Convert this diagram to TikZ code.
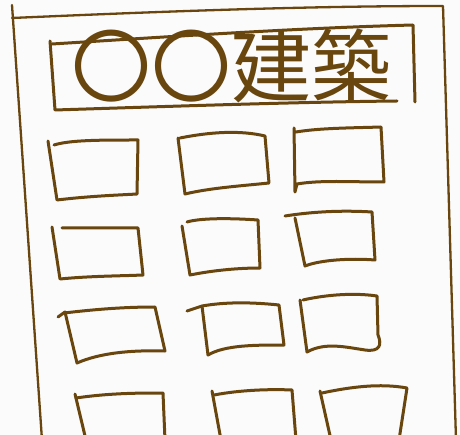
\documentclass[tikz,border=0pt]{standalone}
\usepackage{fontspec}
\newfontfamily\jpfont{Noto Sans CJK JP}
\definecolor{ink}{RGB}{104,70,14}
\definecolor{paper}{RGB}{251,251,251}
\begin{document}
\begin{tikzpicture}[x=1pt,y=-1pt,
  sk/.style={draw=ink,line width=3pt,line join=round,line cap=round},
  thin/.style={draw=ink,line width=2.3pt,line join=round,line cap=round}]
\clip (0,0) rectangle (460,435);
\fill[paper] (0,0) rectangle (460,435);
% building outline
\draw[thin] (12,5) -- (42,440);
\draw[thin] (12,18) .. controls (150,12) and (300,6) .. (443,6) -- (456,440);
% sign frame
\draw[sk] (50,41) -- (55,110) .. controls (180,106) and (300,102) .. (397,101);
\draw[sk] (52,44) .. controls (180,36) and (300,28) .. (413,25) -- (415,102);
\node[text=ink,font=\jpfont\fontsize{80}{84}\selectfont,inner sep=0pt] (title) at (231,66) {〇〇建築};
% row 1
\draw[sk] (48,141) -- (57,200) .. controls (90,196) and (120,195) .. (137,194) -- (138,140) .. controls (100,140) and (70,140) .. (54,145);
\draw[sk] (178,138) -- (185,194) .. controls (210,188) and (240,186) .. (269,183) -- (265,136) .. controls (240,130) and (210,132) .. (180,138);
\draw[sk] (294,128) -- (295,192) -- (297,184) .. controls (320,180) and (350,182) .. (384,182) -- (381,127) .. controls (350,128) and (320,128) .. (296,132);
% row 2
\draw[sk] (52,227) -- (60,279) .. controls (90,276) and (120,276) .. (143,275) -- (138,228) -- (62,228);
\draw[sk] (182,226) -- (190,275) .. controls (215,270) and (240,268) .. (260,268) -- (258,220) .. controls (230,218) and (200,218) .. (187,222);
\draw[sk] (285,216) .. controls (310,212) and (340,210) .. (372,212) -- (375,260) .. controls (350,258) and (320,260) .. (305,266) -- (295,218);
% row 3
\draw[sk] (58,317) -- (65,312) -- (77,363) .. controls (100,353) and (130,350) .. (165,351) -- (155,307) .. controls (120,307) and (90,310) .. (64,313);
\draw[sk] (187,311) -- (202,306) -- (208,355) .. controls (225,345) and (255,345) .. (284,345) -- (279,305) .. controls (250,302) and (225,302) .. (202,306);
\draw[sk] (300,300) -- (307,352) .. controls (325,342) and (345,347) .. (365,350) .. controls (380,352) and (382,345) .. (378,335) -- (377,296) .. controls (350,292) and (320,296) .. (303,300);
% row 4
\draw[sk] (75,394) -- (86,440);
\draw[sk] (76,398) .. controls (110,393) and (140,393) .. (163,393) -- (165,440);
\draw[sk] (212,391) -- (221,440);
\draw[sk] (214,395) .. controls (240,390) and (270,389) .. (292,390) -- (296,440);
\draw[sk] (320,391) -- (331,440);
\draw[sk] (322,393) .. controls (350,387) and (380,383) .. (407,388) -- (399,440);
\end{tikzpicture}
\end{document}
